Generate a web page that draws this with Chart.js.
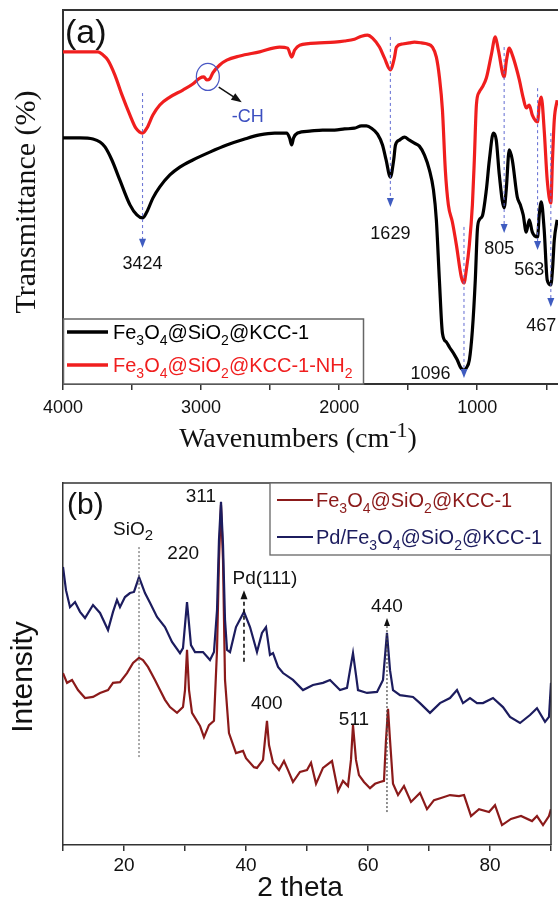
<!DOCTYPE html>
<html><head><meta charset="utf-8">
<script src="https://cdn.jsdelivr.net/npm/chart.js@4.4.1/dist/chart.umd.min.js"></script>
<style>
html,body{margin:0;padding:0;background:#fff;}
#wrap{position:relative;width:558px;height:909px;overflow:hidden;}
canvas{position:absolute;left:0;}
</style></head><body>
<div id="wrap">
<canvas id="ftir" width="558" height="455" style="top:0px"></canvas>
<canvas id="xrd" width="558" height="454" style="top:455px"></canvas>
</div>
<script>
// ---------- Panel (a): FTIR ----------
const ftirWnBlack = [4000,3877,3783,3732,3696,3646,3588,3515,3465,3424,3393,3349,3299,3226,3154,3060,2937,2814,2684,2576,2467,2380,2359,2344,2330,2301,2214,2120,2033,1961,1889,1838,1802,1766,1722,1686,1660,1629,1605,1592,1563,1527,1491,1455,1419,1382,1346,1317,1296,1274,1252,1223,1202,1165,1144,1122,1096,1079,1057,1035,1014,999,985,963,934,912,883,862,840,805,790,768,746,710,688,667,645,623,601,563,551,536,515,493,467,455,442,421];
const ftirTBlack = [65.8,65.8,65.5,64.7,63.4,59.9,54.5,47.9,45.2,44.4,46.0,49.7,52.7,55.9,58.0,59.9,62.0,63.9,65.5,66.6,67.1,67.1,65.8,63.9,65.8,67.1,67.6,67.9,67.9,68.2,68.4,69.0,69.0,68.4,66.8,63.9,59.9,55.3,59.9,63.9,65.2,66.0,65.2,64.4,63.6,61.2,57.2,51.9,43.9,27.8,13.6,11.2,9.9,7.8,6.4,4.5,3.7,4.3,6.4,14.4,27.8,41.2,43.9,44.9,51.9,59.9,67.1,65.2,55.9,47.1,51.9,62.6,59.9,50.0,47.9,45.2,40.6,43.9,40.6,39.3,45.2,48.7,41.2,27.8,26.5,30.5,38.5,43.9];
const ftirWnRed = [4000,3877,3747,3711,3675,3624,3573,3515,3472,3424,3393,3349,3299,3226,3132,3060,3009,2980,2959,2937,2915,2865,2814,2720,2576,2431,2373,2344,2322,2286,2142,2033,1961,1889,1838,1795,1758,1708,1672,1629,1600,1585,1541,1491,1455,1404,1361,1325,1296,1274,1252,1231,1209,1180,1151,1115,1096,1079,1057,1035,1021,1006,985,963,934,898,869,847,805,790,768,746,717,695,667,645,623,601,563,551,536,515,493,467,455,442,421];
const ftirTRed = [88.8,88.8,88.8,88.0,86.6,82.6,77.3,71.9,68.4,67.1,68.4,71.9,74.6,76.7,78.6,80.2,81.8,82.1,81.3,81.6,83.2,85.3,86.6,87.7,88.8,90.1,89.8,87.4,89.3,90.6,91.2,91.4,91.7,92.2,93.0,93.3,92.5,90.1,87.2,84.0,87.2,90.1,90.9,91.2,91.4,91.2,90.9,90.1,87.4,82.1,73.3,57.2,47.9,43.3,37.2,28.6,27.0,30.5,37.2,47.9,59.9,74.6,78.1,79.4,81.8,88.0,92.8,89.3,82.1,86.1,89.8,88.0,84.5,81.3,76.5,73.8,74.6,71.9,70.1,74.6,76.7,67.9,54.5,48.4,59.9,70.6,75.9];
const ftirMajorTicks = [4000,3000,2000,1000];
const ftirMinorTicks = [3500,2500,1500,500];
const ftirPeakLabels = ['3424','1629','1096','805','563','467'];

// ---------- Panel (b): XRD ----------
const xrdThetaPd = [10.0,10.49,11.15,11.97,12.79,13.61,14.92,16.07,17.38,18.20,18.85,19.34,20.16,20.98,21.64,22.46,23.44,24.26,25.41,26.72,27.87,29.18,29.67,30.33,30.98,31.64,32.95,34.10,34.75,35.25,35.57,35.90,36.23,36.56,36.89,37.38,38.36,39.67,40.66,41.80,42.62,43.28,43.93,44.43,45.25,46.07,47.70,49.34,50.98,52.62,53.77,55.41,56.56,57.05,57.54,58.03,58.36,59.84,61.48,62.46,63.11,63.61,64.10,65.25,67.38,68.52,70.16,71.80,73.44,74.59,75.57,76.72,77.87,78.85,80.49,82.13,83.28,84.92,86.56,87.70,89.02,89.67,90.0];
const xrdIntPd = [76.8,70.4,65.7,67.1,64.4,62.7,66.3,64.1,59.4,64.4,67.7,65.7,68.5,69.6,69.9,74.0,69.6,66.9,63.0,60.2,56.1,53.0,54.4,67.1,55.2,53.3,53.3,51.1,53.3,64.9,84.3,94.8,82.9,62.2,53.9,53.3,60.2,64.4,60.2,53.3,58.6,60.2,52.5,53.0,49.2,47.5,45.6,42.8,44.2,44.8,45.6,42.8,43.4,48.3,53.0,47.0,42.8,42.0,42.3,45.6,58.6,48.3,42.8,41.4,40.9,39.2,36.5,39.2,40.6,42.8,39.2,40.6,39.2,39.2,40.6,38.1,35.4,33.7,35.9,37.8,34.0,35.4,44.8];
const xrdThetaFe = [10.0,10.66,11.48,12.46,13.61,14.92,16.07,17.38,18.20,19.34,20.49,21.48,22.46,23.11,23.93,25.08,25.90,26.72,27.54,28.69,29.67,30.0,30.33,30.66,31.15,32.46,33.11,33.93,34.75,35.25,35.57,35.90,36.23,36.56,37.21,38.36,39.51,40.0,41.31,41.80,42.79,43.11,43.44,43.77,44.43,45.41,46.23,46.89,47.70,48.85,50.0,50.66,51.48,52.62,54.10,55.08,55.90,56.72,57.21,57.54,58.03,58.52,59.34,60.33,61.15,61.97,62.62,62.95,63.28,63.61,64.10,64.92,65.90,67.05,68.52,69.67,70.82,71.97,73.44,74.92,75.74,76.89,78.20,79.84,80.82,81.97,83.44,85.08,86.89,87.70,88.69,89.67,90.0];
const xrdIntFe = [47.5,44.8,45.6,42.8,40.6,40.9,42.0,42.8,44.8,45.0,47.5,50.3,51.7,51.1,49.2,45.6,42.8,40.1,38.1,36.5,38.1,42.8,53.9,42.8,36.5,32.9,29.8,33.1,34.3,53.9,78.7,93.9,78.7,45.6,30.9,25.4,26.0,24.0,21.5,21.3,23.5,29.0,34.3,27.6,22.7,20.7,23.2,20.7,17.4,20.2,20.7,22.7,16.9,21.3,23.2,14.9,17.7,16.3,23.5,33.1,23.5,19.3,17.4,15.7,16.9,17.4,17.7,29.0,37.6,29.0,16.9,13.8,16.3,11.9,14.4,9.9,12.4,13.0,13.8,13.5,13.8,8.0,9.9,9.1,11.0,5.5,7.2,8.0,6.6,8.0,5.5,8.0,9.9];
const xrdLabelledTicks = [20,40,60,80];

// ---------- helpers ----------
const SANS = '"Liberation Sans", Arial, sans-serif';
const SERIF = '"Liberation Serif", "Times New Roman", serif';
const pts = (xs, ys) => xs.map((x, i) => ({x: x, y: ys[i]}));

function richText(ctx, parts, x, y, size, color, align, family, subScale) {
  ctx.save();
  ctx.fillStyle = color; ctx.textBaseline = 'alphabetic'; ctx.textAlign = 'left';
  const small = Math.round(size * (subScale || 0.68));
  const widths = parts.map(p => { ctx.font = (p[1] ? small : size) + 'px ' + family; return ctx.measureText(p[0]).width; });
  const total = widths.reduce((a, b) => a + b, 0);
  let cx = align === 'center' ? x - total / 2 : (align === 'right' ? x - total : x);
  parts.forEach((p, i) => {
    ctx.font = (p[1] ? small : size) + 'px ' + family;
    const dy = p[1] === 'sub' ? size * 0.28 : (p[1] === 'sup' ? -size * 0.34 : 0);
    ctx.fillText(p[0], cx, y + dy);
    cx += widths[i];
  });
  ctx.restore();
}
function vText(ctx, text, x, y, size, family, color) {
  ctx.save(); ctx.translate(x, y); ctx.rotate(-Math.PI / 2);
  ctx.font = size + 'px ' + family; ctx.fillStyle = color;
  ctx.textAlign = 'center'; ctx.textBaseline = 'alphabetic';
  ctx.fillText(text, 0, 0); ctx.restore();
}
function head(ctx, x, y, dir, w, h, color) {
  const s = dir === 'down' ? -1 : 1;
  ctx.save(); ctx.fillStyle = color; ctx.beginPath();
  ctx.moveTo(x, y); ctx.lineTo(x - w / 2, y + s * h); ctx.lineTo(x + w / 2, y + s * h); ctx.closePath(); ctx.fill(); ctx.restore();
}
function vline(ctx, x, y1, y2, color, dash, lw) {
  ctx.save(); ctx.strokeStyle = color; ctx.lineWidth = lw; ctx.setLineDash(dash);
  ctx.beginPath(); ctx.moveTo(x, y1); ctx.lineTo(x, y2); ctx.stroke(); ctx.restore();
}
const sub = t => [t, 'sub'];
const FE_PARTS = [['Fe', ''], sub('3'), ['O', ''], sub('4'), ['@SiO', ''], sub('2'), ['@KCC-1', '']];

// ---------- Panel (a) decorations ----------
const ftirDecor = {
  id: 'ftirDecor',
  afterDraw(chart) {
    const ctx = chart.ctx, a = chart.chartArea;
    const X = v => chart.scales.x.getPixelForValue(v), Y = v => chart.scales.y.getPixelForValue(v);
    ctx.save(); ctx.strokeStyle = '#333'; ctx.lineWidth = 2;
    ctx.beginPath(); ctx.moveTo(a.left, a.top); ctx.lineTo(a.right + 2, a.top); ctx.stroke(); ctx.restore();

    // peak markers: [wavenumber, line top T, arrow tip T, label wn, label T]
    const marks = [
      [3424, 77.8, 36.4, 3424, 32.4],
      [1629, 92.8, 47.3, 1629, 40.6],
      [1096, 42.0, 1.6, 1339, 3.2],
      [805, 90.1, 40.4, 840, 36.6],
      [563, 79.1, 35.8, 623, 31.0],
      [467, 67.1, 20.6, 537, 15.8]
    ];
    marks.forEach((m, i) => {
      const x = X(m[0]);
      vline(ctx, x, Y(m[1]), Y(m[2]) - 8, 'rgba(95,105,210,0.9)', [3, 3], 1.1);
      head(ctx, x, Y(m[2]), 'down', 7, 9, '#3f5cc0');
      ctx.save(); ctx.font = '18px ' + SANS; ctx.fillStyle = '#111'; ctx.textAlign = 'center';
      ctx.fillText(ftirPeakLabels[i], X(m[3]), Y(m[4]) + 6.5); ctx.restore();
    });
    // -CH ellipse and arrow
    ctx.save(); ctx.strokeStyle = '#4a58c4'; ctx.lineWidth = 1.2;
    ctx.beginPath(); ctx.ellipse(X(2951), Y(82.1), 11.5, 13.5, 0, 0, Math.PI * 2); ctx.stroke(); ctx.restore();
    const ax1 = X(2872), ay1 = Y(79.4), ax2 = X(2720), ay2 = Y(75.7);
    ctx.save(); ctx.strokeStyle = '#111'; ctx.fillStyle = '#111'; ctx.lineWidth = 1.5;
    ctx.beginPath(); ctx.moveTo(ax1, ay1); ctx.lineTo(ax2, ay2); ctx.stroke();
    const ang = Math.atan2(ay2 - ay1, ax2 - ax1);
    ctx.beginPath(); ctx.moveTo(ax2 + 2, ay2 + 2 * Math.tan(ang));
    ctx.lineTo(ax2 - 8 * Math.cos(ang) + 4 * Math.sin(ang), ay2 - 8 * Math.sin(ang) - 4 * Math.cos(ang));
    ctx.lineTo(ax2 - 8 * Math.cos(ang) - 4 * Math.sin(ang), ay2 - 8 * Math.sin(ang) + 4 * Math.cos(ang));
    ctx.closePath(); ctx.fill(); ctx.restore();
    ctx.save(); ctx.font = '18px ' + SANS; ctx.fillStyle = '#3c4fc0'; ctx.textAlign = 'center';
    ctx.fillText('-CH', X(2662), Y(71.9) + 6.5); ctx.restore();

    // panel tag
    ctx.save(); ctx.font = '34px ' + SANS; ctx.fillStyle = '#111'; ctx.textAlign = 'left';
    ctx.fillText('(a)', 65, 43); ctx.restore();

    // legend
    ctx.save(); ctx.fillStyle = '#fff'; ctx.strokeStyle = '#666'; ctx.lineWidth = 1.5;
    ctx.fillRect(a.left, 319, 300, a.bottom - 319); ctx.strokeRect(a.left + 0.5, 319, 300, a.bottom - 319);
    ctx.lineWidth = 3.5;
    ctx.strokeStyle = '#000'; ctx.beginPath(); ctx.moveTo(67, 332); ctx.lineTo(108, 332); ctx.stroke();
    ctx.strokeStyle = '#f01e1e'; ctx.beginPath(); ctx.moveTo(67, 365); ctx.lineTo(108, 365); ctx.stroke();
    ctx.restore();
    richText(ctx, FE_PARTS, 113, 339, 20, '#000', 'left', SANS);
    richText(ctx, FE_PARTS.concat([['-NH', ''], sub('2')]), 113, 372, 20, '#f01e1e', 'left', SANS);

    // axis titles
    richText(ctx, [['Wavenumbers (cm', ''], ['-1', 'sup'], [')', '']], 298, 447, 28, '#111', 'center', SERIF, 0.8);
    vText(ctx, 'Transmittance (%)', 35, 202, 30, SERIF, '#111');
  }
};

// ---------- Panel (b) decorations ----------
const xrdDecor = {
  id: 'xrdDecor',
  afterDraw(chart) {
    const ctx = chart.ctx, a = chart.chartArea;
    const X = v => chart.scales.x.getPixelForValue(v), Y = v => chart.scales.y.getPixelForValue(v);
    ctx.save(); ctx.strokeStyle = '#333'; ctx.lineWidth = 1.5;
    ctx.beginPath(); ctx.moveTo(a.left, a.top); ctx.lineTo(a.right, a.top); ctx.lineTo(a.right, a.bottom); ctx.stroke(); ctx.restore();

    // reference lines
    vline(ctx, X(22.46), Y(82.3), Y(24.0), '#7a7a7a', [2, 2], 1.3);
    vline(ctx, X(39.67), Y(50.6), Y(70.4) + 8, '#111', [4, 3], 1.6);
    head(ctx, X(39.67), Y(70.4), 'up', 7, 9, '#111');
    vline(ctx, X(63.11), Y(9.1), Y(62.7) + 7, '#444', [2, 2], 1.2);
    head(ctx, X(63.11), Y(62.7), 'up', 6, 8, '#111');

    // labels
    const lab = (t, th, iv) => { ctx.save(); ctx.font = '19px ' + SANS; ctx.fillStyle = '#111'; ctx.textAlign = 'center'; ctx.fillText(t, X(th), Y(iv) + 7); ctx.restore(); };
    richText(ctx, [['SiO', ''], sub('2')], X(18.2), Y(87.6) + 7, 19, '#111', 'left', SANS, 0.8);
    lab('220', 29.7, 80.9);
    lab('311', 32.6, 96.7);
    lab('Pd(111)', 43.1, 74.0);
    lab('440', 63.1, 66.3);
    lab('400', 43.4, 39.5);
    lab('511', 57.7, 35.1);

    ctx.save(); ctx.font = '30px ' + SANS; ctx.fillStyle = '#111'; ctx.textAlign = 'left';
    ctx.fillText('(b)', 67, 59); ctx.restore();

    // legend
    ctx.save(); ctx.fillStyle = '#fff'; ctx.strokeStyle = '#666'; ctx.lineWidth = 1.3;
    ctx.fillRect(270, a.top, a.right - 270, 72); ctx.strokeRect(270, a.top, a.right - 270, 72);
    ctx.lineWidth = 2;
    ctx.strokeStyle = '#8b1a1a'; ctx.beginPath(); ctx.moveTo(277, 45); ctx.lineTo(313, 45); ctx.stroke();
    ctx.strokeStyle = '#1c1c5e'; ctx.beginPath(); ctx.moveTo(277, 82); ctx.lineTo(313, 82); ctx.stroke();
    ctx.restore();
    richText(ctx, FE_PARTS, 316, 52, 20, '#8b1a1a', 'left', SANS);
    richText(ctx, [['Pd/', '']].concat(FE_PARTS), 316, 89, 20, '#1c1c5e', 'left', SANS);

    // axis titles
    ctx.save(); ctx.font = '28px ' + SANS; ctx.fillStyle = '#111'; ctx.textAlign = 'center';
    ctx.fillText('2 theta', 300, 441); ctx.restore();
    vText(ctx, 'Intensity', 32, 222, 30, SANS, '#111');
  }
};

Chart.defaults.font.family = SANS;
Chart.defaults.color = '#111';

const common = {
  responsive: false, animation: false, devicePixelRatio: 1,
  plugins: { legend: { display: false }, tooltip: { enabled: false } },
  elements: { point: { radius: 0 } }
};

new Chart(document.getElementById('ftir'), {
  type: 'line',
  data: { datasets: [
    { data: pts(ftirWnRed, ftirTRed), borderColor: '#f01e1e', borderWidth: 3.2, cubicInterpolationMode: 'monotone', fill: false },
    { data: pts(ftirWnBlack, ftirTBlack), borderColor: '#000', borderWidth: 3.2, cubicInterpolationMode: 'monotone', fill: false }
  ]},
  options: Object.assign({}, common, {
    layout: { padding: { top: 10, right: 0, left: 0, bottom: 0 } },
    scales: {
      x: {
        type: 'linear', reverse: true, min: 415, max: 4000,
        afterBuildTicks: ax => { ax.ticks = ftirMajorTicks.concat(ftirMinorTicks).sort((p, q) => q - p).map(v => ({ value: v })); },
        afterFit: ax => { ax.height = 71; },
        ticks: { autoSkip: false, maxRotation: 0, padding: 7, font: { size: 18 }, color: '#111',
          callback: v => ftirMajorTicks.includes(v) ? String(v) : '' },
        grid: { display: true, drawOnChartArea: false, drawTicks: true, tickLength: 6, color: '#333', lineWidth: 1.5 },
        border: { display: true, color: '#333', width: 2 }
      },
      y: {
        min: 0, max: 100,
        afterFit: ax => { ax.width = 63; },
        ticks: { display: false },
        grid: { display: false },
        border: { display: true, color: '#333', width: 2 }
      }
    }
  }),
  plugins: [ftirDecor]
});

new Chart(document.getElementById('xrd'), {
  type: 'line',
  data: { datasets: [
    { data: pts(xrdThetaPd, xrdIntPd), borderColor: '#1c1c5e', borderWidth: 2.2, tension: 0, fill: false },
    { data: pts(xrdThetaFe, xrdIntFe), borderColor: '#8b1a1a', borderWidth: 2.2, tension: 0, fill: false }
  ]},
  options: Object.assign({}, common, {
    layout: { padding: { top: 28, right: 7, left: 0, bottom: 0 } },
    scales: {
      x: {
        type: 'linear', min: 10, max: 90,
        afterFit: ax => { ax.height = 64; },
        ticks: { stepSize: 10, autoSkip: false, maxRotation: 0, padding: 3, font: { size: 19 }, color: '#111',
          callback: v => xrdLabelledTicks.includes(v) ? String(v) : '' },
        grid: { display: true, drawOnChartArea: false, drawTicks: true, tickLength: 6, color: '#333', lineWidth: 1.5 },
        border: { display: true, color: '#333', width: 1.5 }
      },
      y: {
        min: 0, max: 100,
        afterFit: ax => { ax.width = 63; },
        ticks: { display: false },
        grid: { display: false },
        border: { display: true, color: '#333', width: 1.5 }
      }
    }
  }),
  plugins: [xrdDecor]
});
</script>
</body></html>
